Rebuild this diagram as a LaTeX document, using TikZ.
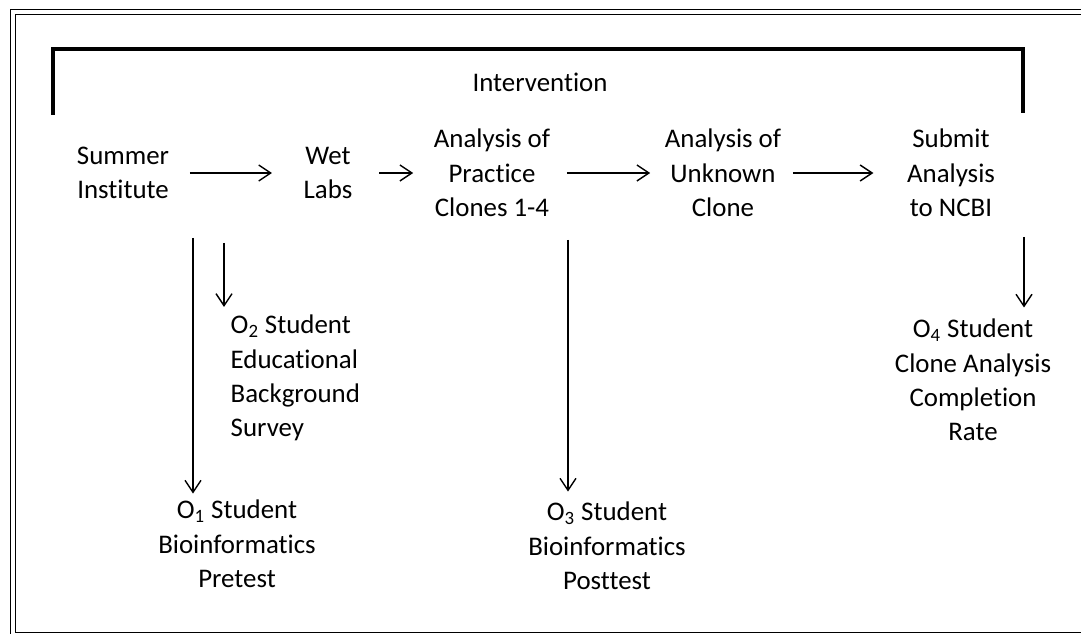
\documentclass[tikz,border=0pt]{standalone}
\usepackage{fontspec}
\setmainfont{Carlito}[Ligatures={NoCommon}]
\usepackage{tikz}
\usetikzlibrary{arrows.meta}

\begin{document}
\begin{tikzpicture}[x=0.02cm,y=-0.02cm,->,>={Straight Barb[length=0.24cm,width=0.32cm]},
                    line width=0.8pt]
\tikzstyle{every node}=[inner sep=0pt,text=black]
\tikzstyle{stage}=[align=center]
\tikzstyle{outcome}=[align=center]
\tikzset{font=\fontsize{15.3pt}{19.5pt}\selectfont}

        \useasboundingbox (0,0) rectangle (1081,634);

        % frame and intervention bracket
        \draw[-,line width=0.6pt,double,double distance=0.08cm] (1095,12) -- (13,12) -- (13,635) -- (1095,635);
        \draw[-,line width=2.3pt] (53,115) -- (53,49) -- (1023,49) -- (1023,113);

        \node (intv) at (540,82) {Intervention};

        \node[stage]    (si)    at (123,173)    {Summer\\Institute};
        \node[stage]    (wl)    at (328,173)    {Wet\\Labs};
        \node[stage]    (apc)   at (492,173)    {Analysis of\\Practice\\Clones 1-4};
        \node[stage]    (auc)   at (723,173)    {Analysis of\\Unknown\\Clone};
        \node[stage]    (sub)   at (951,173)    {Submit\\Analysis\\to NCBI};

        \node[outcome]  (o1)    at (237,544)    {O\textsubscript{1} Student\\Bioinformatics\\Pretest};
        \node[outcome, align=left, anchor=west] (o2) at (230,378) {O\textsubscript{2} Student\\Educational\\Background\\Survey};
        \node[outcome]  (o3)    at (607,546)    {O\textsubscript{3} Student\\Bioinformatics\\Posttest};
        \node[outcome]  (o4)    at (973,380)    {O\textsubscript{4} Student\\Clone Analysis\\Completion\\Rate};

        \coordinate (o1s) at (193,238);
        \coordinate (o2s) at (224,243);
        \coordinate (o3s) at (568,240);
        \coordinate (o4s) at (1024,237);

        \path[->]
        (si)    edge[shorten <=0.4cm, shorten >=0.62cm]     (wl)
        (wl)    edge[shorten <=0.52cm, shorten >=0.4cm]     (apc)
        (apc)   edge[shorten <=0.32cm, shorten >=0.28cm]    (auc)
        (auc)   edge[shorten <=0.22cm, shorten >=0.66cm]    (sub)
        (o1s)   edge[shorten >=0.12cm]      (o1s |- o1.north)
        (o2s)   edge[shorten >=0.15cm]      (o2s |- o2.north)
        (o3s)   edge[shorten >=0.2cm]       (o3s |- o3.north)
        (o4s)   edge[shorten >=0.22cm]      (o4s |- o4.north)
        ; %end path

\end{tikzpicture}
\end{document}
